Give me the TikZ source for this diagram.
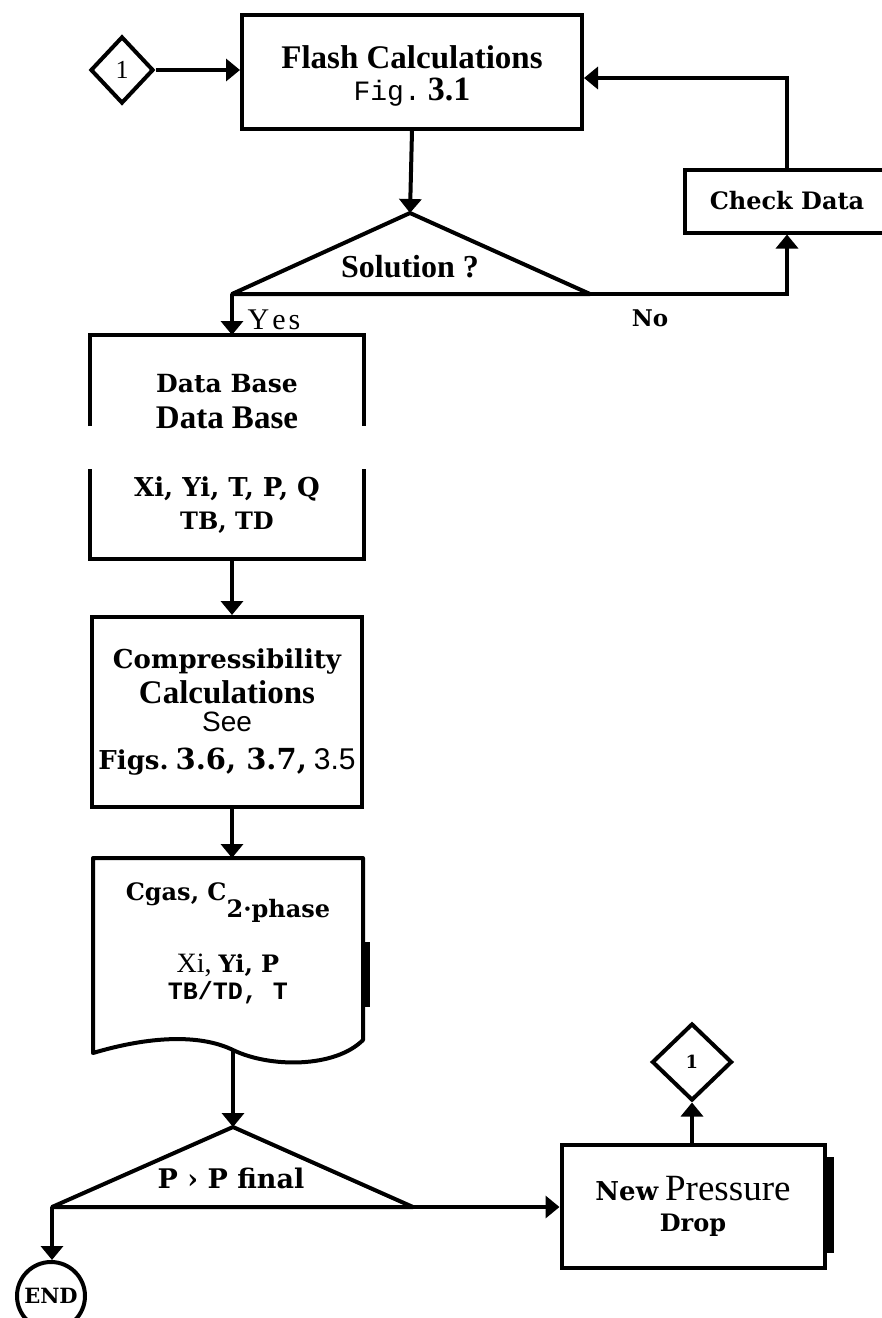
\documentclass[tikz,border=0pt]{standalone}
\usepackage{fontspec}
\setmainfont{Liberation Serif}
\newfontfamily\slab{DejaVu Serif}
\newfontfamily\cour{Liberation Mono}
\newfontfamily\helv{Liberation Sans}
\usetikzlibrary{shapes.geometric,arrows.meta}
\newcommand{\fsz}[1]{\fontsize{#1}{#1}\selectfont}

\begin{document}
\begin{tikzpicture}[x=1pt, y=-1pt, line width=4pt, every node/.style={font=\fsz{28}}, box/.style={draw, rectangle, inner sep=0pt, align=center}, txt/.style={inner sep=0pt, align=center}, dia/.style={draw, diamond, inner sep=0pt}, arr/.style={-{Triangle[width=22pt,length=14pt]}}]
	\useasboundingbox (0,0) rectangle (882,1318);
	\clip (0,0) rectangle (882,1318);
	\node[dia, minimum width=63pt, minimum height=67pt] (d1) at (122,70) {\fsz{26}1};
	\node[box, minimum width=340pt, minimum height=114pt] (flash) at (412,72) {\rule{0pt}{30pt}{\bfseries\fsz{33}Flash Calculations}\\[4pt]{\cour\fsz{28}Fig.}~{\bfseries\fsz{34}3.1}};
	\node[box, minimum width=204pt, minimum height=63pt] (check) at (787,201) {\slab\bfseries\fsz{24}Check Data};
	% decision: solution
	\coordinate (solT) at (410,213);
	\coordinate (solL) at (232,294);
	\coordinate (solR) at (590,294);
	\draw[line join=round] (solL) -- (solT) -- (solR) -- cycle;
	\node[txt] (sol) at (410,267) {\bfseries\fsz{32}Solution ?};
	\node[txt] (yes) at (274,320) {\fsz{30}Y\kern3pt e\kern3pt s};
	\node[txt] (no) at (650,318) {\slab\bfseries\fsz{23}No};
	% data base (broken sides)
	\node[txt, minimum width=270pt, minimum height=220pt] (base) at (227,447) {\rule{0pt}{32pt}{\slab\bfseries\fsz{25}Data Base}\\[8pt]{\bfseries\fsz{33}Data Base}\\[40pt]{\slab\bfseries\fsz{26}Xi, Yi, T, P, Q}\\[5pt]{\slab\bfseries\fsz{24}TB, TD}};
	\draw ([yshift=-91pt]base.north west) -- (base.north west) -- (base.north east) -- ([yshift=-91pt]base.north east);
	\draw ([yshift=90pt]base.south west) -- (base.south west) -- (base.south east) -- ([yshift=90pt]base.south east);
	\node[box, minimum width=270pt, minimum height=190pt] (comp) at (227,712) {{\slab\bfseries\fsz{26}Compressibility}\\[6pt]{\bfseries\fsz{33}Calculations}\\[0pt]{\helv\fsz{28}See}\\[10pt]{\slab\bfseries\fsz{26}Figs.}~{\slab\bfseries\fsz{29}3.6, 3.7,}~{\helv\fsz{30}3.5}};
	% document shape
	\coordinate (cgasN) at (232,858);
	\coordinate (cgasS) at (233,1050);
	\draw[line join=round] (93,858) -- (363,858) -- (363,1040) .. controls (335,1068) and (270,1068) .. (cgasS) .. controls (200,1034) and (150,1036) .. (93,1053) -- cycle;
	\fill (361,942) rectangle (370,1007);
	\node[txt] (cgas) at (228,943) {{\slab\bfseries\fsz{24}Cgas, C\raisebox{-17pt}[0pt][0pt]{2·phase}}\\[44pt]{\fsz{28}Xi,}~{\slab\bfseries\fsz{24}Yi, P}\\[-1pt]{\cour\bfseries\fsz{25}TB/TD, T}};
	% decision: pressure
	\coordinate (prsT) at (233,1127);
	\coordinate (prsL) at (52,1207);
	\coordinate (prsR) at (413,1207);
	\draw[line join=round] (prsL) -- (prsT) -- (prsR) -- cycle;
	\node[txt] (prs) at (231,1178) {\slab\bfseries\fsz{27}P › P final};
	\node[draw, circle, minimum size=68pt, inner sep=0pt] (end) at (51,1296) {\slab\bfseries\fsz{21}END};
	\node[box, minimum width=263pt, minimum height=123pt] (newp) at (693,1206) {{\slab\bfseries\fsz{26}New}~{\fsz{37}Pressure}\\[3pt]{\slab\bfseries\fsz{24}Drop}};
	\fill (824,1157) rectangle (834,1253);
	\node[dia, minimum width=80pt, minimum height=77pt] (d2) at (692,1062) {\slab\bfseries\fsz{18}1};
	% connectors
	\draw[arr] (d1.east) -- (d1.east -| flash.west);
	\draw[arr] (flash.south) -- (solT);
	\draw[arr] (solL) -- (solL |- base.north);
	\draw[arr] (solR) -| (check.south);
	\draw[arr] (check.north) |- ([yshift=-6pt]flash.east);
	\draw[arr] (solL |- base.south) -- (solL |- comp.north);
	\draw[arr] (solL |- comp.south) -- (cgasN);
	\draw[arr] (cgasS) -- (prsT);
	\draw[arr] (prsL) -- (prsL |- end.north);
	\draw[arr] (prsR) -- (prsR -| newp.west);
	\draw[arr] (newp.north -| d2.south) -- (d2.south);
\end{tikzpicture}
\end{document}
